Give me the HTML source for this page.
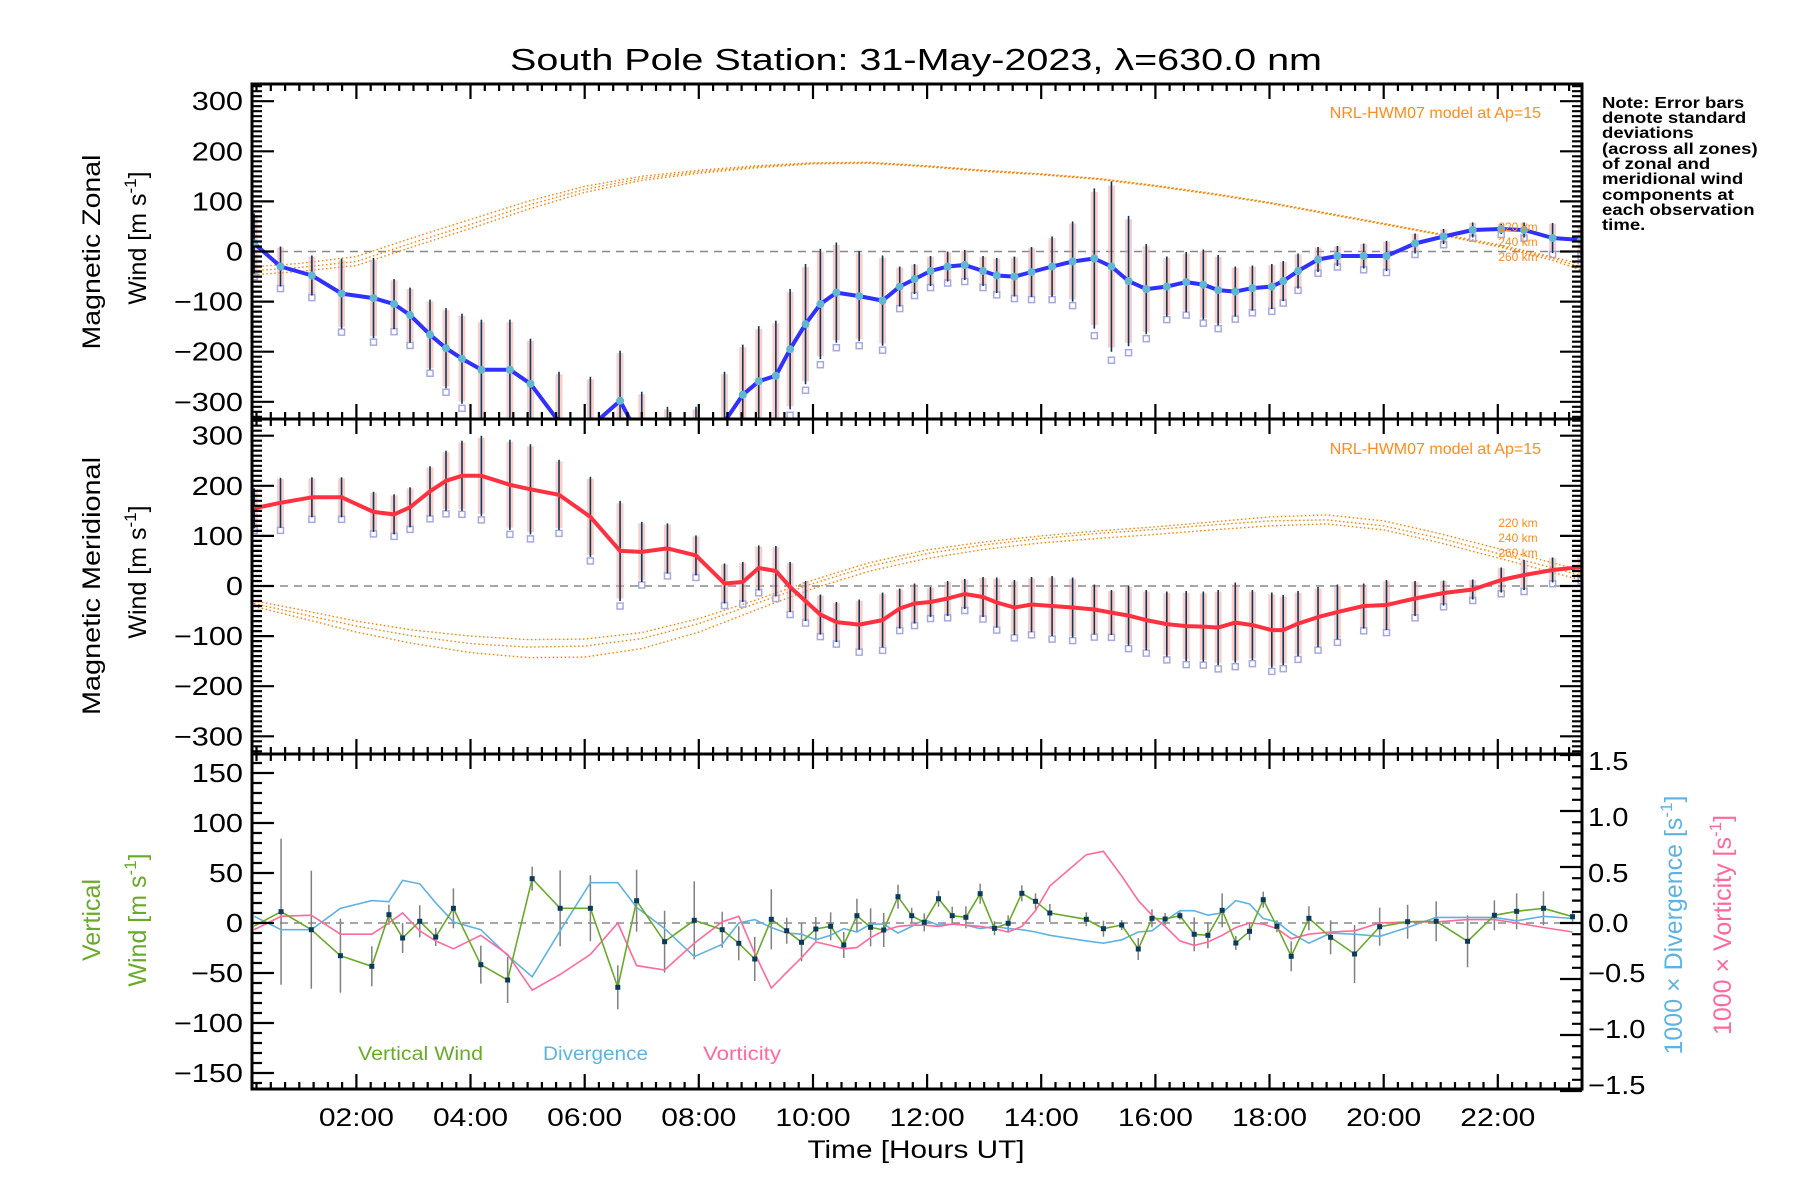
<!DOCTYPE html>
<html><head><meta charset="utf-8"><style>
html,body{margin:0;padding:0;background:#fff;}
svg{display:block;font-family:"Liberation Sans",sans-serif;}
</style></head><body>
<svg id="chart" width="1800" height="1200" viewBox="0 0 1800 1200" xmlns="http://www.w3.org/2000/svg">
<defs>
<clipPath id="c1"><rect x="252" y="84" width="1330" height="335"/></clipPath>
<clipPath id="c2"><rect x="252" y="419" width="1330" height="335"/></clipPath>
<clipPath id="c3"><rect x="252" y="754" width="1330" height="335"/></clipPath>
</defs>
<text x="916" y="70" font-size="31" text-anchor="middle" textLength="812" lengthAdjust="spacingAndGlyphs">South Pole Station: 31-May-2023, λ=630.0 nm</text>
<g id="g1" clip-path="url(#c1)"></g>
<g id="g2" clip-path="url(#c2)"></g>
<g id="g3" clip-path="url(#c3)"></g>
<g id="axes"></g>
<text transform="translate(100,252) rotate(-90)" font-size="25" text-anchor="middle" textLength="195" lengthAdjust="spacingAndGlyphs">Magnetic Zonal</text>
<text transform="translate(146,238) rotate(-90)" font-size="25" text-anchor="middle">Wind [m s<tspan dy="-10" font-size="17">-1</tspan><tspan dy="10">]</tspan></text>
<text transform="translate(100,586) rotate(-90)" font-size="25" text-anchor="middle" textLength="258" lengthAdjust="spacingAndGlyphs">Magnetic Meridional</text>
<text transform="translate(146,572) rotate(-90)" font-size="25" text-anchor="middle">Wind [m s<tspan dy="-10" font-size="17">-1</tspan><tspan dy="10">]</tspan></text>
<text transform="translate(100,920) rotate(-90)" font-size="25" fill="#6aaa2a" text-anchor="middle">Vertical</text>
<text transform="translate(146,920) rotate(-90)" font-size="25" fill="#6aaa2a" text-anchor="middle">Wind [m s<tspan dy="-10" font-size="17">-1</tspan><tspan dy="10">]</tspan></text>
<text transform="translate(1682,925) rotate(-90)" font-size="25" fill="#5fb3e0" text-anchor="middle">1000 × Divergence [s<tspan dy="-10" font-size="17">-1</tspan><tspan dy="10">]</tspan></text>
<text transform="translate(1731,925) rotate(-90)" font-size="25" fill="#ff6a9a" text-anchor="middle">1000 × Vorticity [s<tspan dy="-10" font-size="17">-1</tspan><tspan dy="10">]</tspan></text>
<text x="916" y="1158" font-size="25" text-anchor="middle" textLength="217" lengthAdjust="spacingAndGlyphs">Time [Hours UT]</text>
<text x="1541" y="118" font-size="16" fill="#ff8c1a" text-anchor="end">NRL-HWM07 model at Ap=15</text>
<text x="1541" y="454" font-size="16" fill="#ff8c1a" text-anchor="end">NRL-HWM07 model at Ap=15</text>
<g font-size="12" fill="#ff8c1a" text-anchor="middle">
<text x="1518" y="231">220 km</text><text x="1518" y="246">240 km</text><text x="1518" y="261">260 km</text></g>
<g font-size="12" fill="#ff8c1a" text-anchor="middle">
<text x="1518" y="527">220 km</text><text x="1518" y="542">240 km</text><text x="1518" y="557">260 km</text></g>
<g font-size="16" font-weight="bold" transform="translate(1602,0) scale(1.16,1)">
<text x="0" y="108">Note: Error bars</text><text x="0" y="123">denote standard</text><text x="0" y="138">deviations</text><text x="0" y="154">(across all zones)</text><text x="0" y="169">of zonal and</text><text x="0" y="184">meridional wind</text><text x="0" y="200">components at</text><text x="0" y="215">each observation</text><text x="0" y="230">time.</text></g>
<text x="358" y="1060" font-size="19" fill="#6aaa2a" textLength="125" lengthAdjust="spacingAndGlyphs">Vertical Wind</text>
<text x="543" y="1060" font-size="19" fill="#5fb3e0" textLength="105" lengthAdjust="spacingAndGlyphs">Divergence</text>
<text x="703" y="1060" font-size="19" fill="#ff6a9a" textLength="78" lengthAdjust="spacingAndGlyphs">Vorticity</text>
</svg>
<script>
const obsTimes=[0.21,0.67,1.22,1.74,2.3,2.66,2.94,3.29,3.57,3.85,4.19,4.69,5.05,5.55,6.1,6.62,7.0,7.45,7.95,8.45,8.77,9.05,9.35,9.6,9.87,10.13,10.41,10.81,11.22,11.52,11.78,12.06,12.36,12.66,12.98,13.22,13.53,13.83,14.19,14.55,14.93,15.23,15.53,15.84,16.2,16.54,16.84,17.1,17.4,17.7,18.04,18.24,18.5,18.85,19.19,19.65,20.05,20.55,21.05,21.56,22.06,22.46,22.96,23.46];
const zonalWind=[16,-30,-48,-84,-93,-105,-127,-166,-193,-214,-236,-236,-264,-340,-350,-298,-380,-420,-420,-340,-286,-259,-248,-195,-145,-105,-82,-89,-98,-70,-55,-39,-30,-27,-39,-48,-50,-41,-30,-20,-14,-30,-59,-75,-70,-61,-66,-77,-80,-73,-70,-59,-39,-16,-9,-9,-9,16,30,43,45,43,27,23];
const zonalSd=[60,40,40,70,80,50,55,70,80,90,100,100,90,100,100,100,100,110,110,100,100,110,110,120,120,110,100,90,90,40,30,30,30,30,30,35,40,50,60,80,140,170,130,90,60,60,70,70,50,45,45,40,35,25,20,25,30,20,15,15,10,15,30,30];
const meridWind=[155,166,177,177,148,143,157,189,210,220,220,202,193,182,138,70,68,75,61,5,8,36,30,-2,-30,-57,-72,-77,-68,-45,-35,-32,-25,-16,-22,-33,-43,-37,-40,-43,-47,-53,-59,-68,-76,-80,-81,-83,-73,-78,-88,-88,-75,-62,-52,-40,-38,-25,-14,-7,12,22,32,38];
const meridSd=[40,50,40,40,40,40,40,50,60,70,80,90,90,70,80,100,60,50,40,40,40,45,50,50,40,40,40,50,55,40,40,30,35,30,40,50,55,55,60,60,50,45,60,60,65,70,70,75,80,70,75,70,65,60,55,45,50,35,25,20,25,30,25,25];
const modelHours=[0,1,2,3,4,5,6,7,8,9,10,11,12,13,14,15,16,17,18,19,20,21,22,23,24];
const zonalModel220=[-32,-24,-10,28,64,100,130,150,162,171,177,178,171,162,155,146,132,116,98,77,56,35,14,-12,-42];
const zonalModel240=[-40,-32,-20,18,54,92,124,146,159,169,176,177,170,161,154,145,131,115,97,76,55,34,12,-15,-50];
const zonalModel260=[-48,-40,-28,10,46,84,118,142,156,167,175,176,169,160,153,144,130,114,96,75,54,33,10,-19,-58];
const meridModel220=[-25,-47,-70,-88,-100,-107,-106,-93,-65,-28,12,47,72,88,100,110,118,128,138,142,130,104,75,45,15];
const meridModel240=[-30,-55,-80,-100,-115,-122,-120,-105,-75,-35,5,40,65,82,95,105,113,122,130,132,120,95,65,35,5];
const meridModel260=[-35,-63,-92,-115,-133,-143,-142,-125,-92,-48,-5,30,55,73,86,95,103,112,120,124,112,86,56,26,-5];
const vertTimes=[0.21,0.68,1.21,1.72,2.27,2.57,2.81,3.11,3.39,3.70,4.18,4.65,5.08,5.57,6.10,6.58,6.91,7.40,7.92,8.41,8.70,8.98,9.27,9.54,9.80,10.05,10.31,10.54,10.77,11.01,11.24,11.49,11.73,11.95,12.20,12.44,12.68,12.93,13.18,13.42,13.66,13.90,14.15,14.79,15.09,15.41,15.70,15.94,16.17,16.43,16.68,16.92,17.17,17.41,17.65,17.89,18.13,18.38,18.69,19.07,19.49,19.93,20.42,20.92,21.47,21.94,22.33,22.80,23.31];
const vertWind=[-3,11.3,-6.7,-32.7,-43.3,8.3,-15,1.7,-14,14.7,-41.7,-57,44.3,14.7,14.7,-64.3,22.3,-18.7,2.7,-6.7,-20.3,-36,3.7,-7.7,-19.3,-6,-3.3,-22,7.3,-4.3,-7,26.3,7.3,0.7,24.3,7.3,5.7,29.3,-5.3,-0.3,29.7,21.7,10,3.7,-5.7,-2,-26,4.7,4,7.3,-11.3,-12.3,12.7,-20,-8.3,23.3,-3.3,-33.3,4.7,-14.3,-31,-3.7,1.3,1.7,-18.3,7.7,11.7,14.7,6.3];
const vertSd=[0,73,59,37,20,10,15,16,9,20,19,23,12,38,33,22,31,31,39,18,17,22,30,13,19,12,14,13,17,19,17,12,8,9,8,9,11,10,7,8,8,8,9,7,8,5,11,9,6,4,17,13,17,7,9,8,6,15,12,17,29,19,17,20,26,15,18,17,5];
const divergence=[0.06,-0.06,-0.06,0.13,0.20,0.19,0.38,0.35,0.18,0.01,-0.06,-0.29,-0.48,-0.07,0.36,0.36,0.14,-0.05,-0.30,-0.19,0,0.03,-0.04,-0.09,-0.10,-0.15,-0.11,-0.05,-0.08,-0.01,-0.01,-0.09,-0.03,0.03,-0.02,-0.01,-0.02,-0.05,-0.03,-0.05,-0.06,-0.08,-0.11,-0.16,-0.18,-0.15,-0.08,-0.07,0.02,0.11,0.11,0.07,0.09,0.20,0.17,0.04,0.01,-0.09,-0.18,-0.09,-0.10,-0.12,-0.04,0.05,0.05,0.05,0.02,0.06,0.04];
const vorticity=[-0.06,0.06,0.07,-0.10,-0.10,0,0.09,-0.07,-0.16,-0.23,-0.11,-0.28,-0.60,-0.46,-0.28,0,-0.38,-0.42,-0.18,0.01,0.06,-0.27,-0.58,-0.44,-0.31,-0.17,-0.20,-0.23,-0.22,-0.13,-0.07,-0.03,-0.02,-0.02,-0.03,-0.01,-0.02,-0.03,-0.05,-0.08,-0.03,0.11,0.33,0.61,0.64,0.42,0.20,0.07,-0.03,-0.16,-0.20,-0.17,-0.11,-0.04,0,-0.01,-0.05,-0.14,-0.10,-0.08,-0.07,0,0.01,0.01,0.03,0.03,0,-0.04,-0.08];
const xTickLabels=["02:00","04:00","06:00","08:00","10:00","12:00","14:00","16:00","18:00","20:00","22:00"];
const xTickHours=[2,4,6,8,10,12,14,16,18,20,22];
const windTicks=[300,200,100,0,-100,-200,-300];
const vertTicks=[150,100,50,0,-50,-100,-150];
const rightTicks=[1.5,1.0,0.5,0.0,-0.5,-1.0,-1.5];

const NS='http://www.w3.org/2000/svg';
const XL=252,XR=1582;
const P=[{top:84,bot:419,zero:251.5},{top:419,bot:754,zero:586},{top:754,bot:1089,zero:923}];
function xs(h){return 356.4+(h-2)*57.07;}
function ysW(p,v){return P[p].zero-v*0.501;}
function ysV(v){return P[2].zero-v*1.0;}
function ysR(v){return P[2].zero-v*112;}
function mk(tag,attrs,parent){const e=document.createElementNS(NS,tag);for(const k in attrs)e.setAttribute(k,attrs[k]);parent.appendChild(e);return e;}
function widen(t,k){const w=t.getComputedTextLength();if(w>0){t.setAttribute('textLength',(w*k).toFixed(1));t.setAttribute('lengthAdjust','spacingAndGlyphs');}}
const g=[document.getElementById('g1'),document.getElementById('g2'),document.getElementById('g3')];
const ax=document.getElementById('axes');

for(let p=0;p<3;p++){
  const z=mk('line',{x1:XL,x2:XR,y1:P[p].zero,y2:P[p].zero,stroke:'#888','stroke-width':1.5,'stroke-dasharray':'8 6'},g[p]);
  
  
}
function modelLine(p,arr,name){
  const pts=modelHours.map((h,i)=>xs(h).toFixed(1)+','+ysW(p,arr[i]).toFixed(1)).join(' ');
  const l=mk('polyline',{points:pts,fill:'none',stroke:'#ff8000','stroke-width':1.4,'stroke-dasharray':'1.5 2.5'},g[p]);
  
  
}
modelLine(0,zonalModel220,'zonal-model-220km');modelLine(0,zonalModel240,'zonal-model-240km');modelLine(0,zonalModel260,'zonal-model-260km');
modelLine(1,meridModel220,'meridional-model-220km');modelLine(1,meridModel240,'meridional-model-240km');modelLine(1,meridModel260,'meridional-model-260km');

function windPanel(p,vals,sds,color,name){
  obsTimes.forEach((h,i)=>{
    const x=xs(h);
    const band=mk('rect',{x:x-3.5,y:ysW(p,vals[i]+sds[i]*0.95),width:7,height:Math.abs(ysW(p,vals[i]-sds[i]*0.95)-ysW(p,vals[i]+sds[i]*0.95)),fill:'#f6a8a0',opacity:0.55},g[p]);
    
    
    const sq=mk('rect',{x:x-3,y:ysW(p,vals[i]-sds[i]*1.1)-3,width:6,height:6,fill:'none',stroke:'#a8a8e0','stroke-width':1.5},g[p]);
    
    
    const eb=mk('line',{x1:x,x2:x,y1:ysW(p,vals[i]+sds[i]),y2:ysW(p,vals[i]-sds[i]),stroke:'#0a3a5c','stroke-width':1.6},g[p]);
    
    
  });
  const pts=obsTimes.map((h,i)=>xs(h).toFixed(1)+','+ysW(p,vals[i]).toFixed(1)).join(' ');
  const l=mk('polyline',{points:pts,fill:'none',stroke:color,'stroke-width':4,'stroke-linejoin':'round'},g[p]);
  
  
  if(p===0){obsTimes.forEach((h,i)=>{
    const c=mk('circle',{cx:xs(h),cy:ysW(p,vals[i]),r:4,fill:'#5fb8d0'},g[p]);
    
    
  });}
}
windPanel(0,zonalWind,zonalSd,'#3030ff','zonal-wind');
windPanel(1,meridWind,meridSd,'#ff3040','meridional-wind');

vertTimes.forEach((h,i)=>{
  if(vertSd[i]>0){
    const eb=mk('line',{x1:xs(h),x2:xs(h),y1:ysV(vertWind[i]+vertSd[i]),y2:ysV(vertWind[i]-vertSd[i]),stroke:'#808080','stroke-width':1.5},g[2]);
    
    
  }
});
function line3(arr,fn,color,name,w){
  const pts=vertTimes.map((h,i)=>xs(h).toFixed(1)+','+fn(arr[i]).toFixed(1)).join(' ');
  const l=mk('polyline',{points:pts,fill:'none',stroke:color,'stroke-width':w},g[2]);
  
  
}
line3(divergence,ysR,'#5fb3e0','divergence-line',1.6);
line3(vorticity,ysR,'#ff6a9a','vorticity-line',1.6);
line3(vertWind,ysV,'#6aaa2a','vertical-wind-line',1.6);
vertTimes.forEach((h,i)=>{
  if(i===0)return;
  const d=mk('rect',{x:xs(h)-2.5,y:ysV(vertWind[i])-2.5,width:5,height:5,fill:'#0a3a5c'},g[2]);
  
  
});

let tp='';
for(let p=0;p<3;p++){
  const t=P[p].top,b=P[p].bot;
  for(let h=0.25;h<23.5;h+=0.25){
    const x=xs(h);if(x<XL+1||x>XR-1)continue;
    const major=Math.abs(h/2-Math.round(h/2))<1e-6;
    const L=major?15:7;
    tp+=`M${x.toFixed(1)},${t}v${L}M${x.toFixed(1)},${b}v${-L}`;
  }
  if(p<2){
    for(let v=-330;v<=330;v+=10){
      const y=ysW(p,v);const major=(v%100===0);const L=major?22:10;
      tp+=`M${XL},${y.toFixed(1)}h${L}M${XR},${y.toFixed(1)}h${-L}`;
    }
  } else {
    for(let v=-160;v<=160;v+=10){
      const y=ysV(v);const major=(v%50===0);const L=major?22:10;
      tp+=`M${XL},${y.toFixed(1)}h${L}`;
    }
    for(let v=-15;v<=15;v+=1){
      const y=ysR(v/10);const major=(v%5===0);const L=major?22:10;
      tp+=`M${XR},${y.toFixed(1)}h${-L}`;
    }
  }
}
const tk=mk('path',{d:tp,stroke:'#000','stroke-width':2.2,fill:'none'},ax);


for(let p=0;p<3;p++){
  const r=mk('rect',{x:XL,y:P[p].top,width:XR-XL,height:P[p].bot-P[p].top,fill:'none',stroke:'#000','stroke-width':3},ax);
  
  
}
for(let p=0;p<2;p++){
  windTicks.forEach(v=>{
    const t=mk('text',{x:243,y:ysW(p,v)+9,'font-size':26,'text-anchor':'end'},ax);
    t.textContent=(v<0?'−':'')+Math.abs(v);
    
    
    widen(t,1.18);
  });
}
vertTicks.forEach(v=>{
  const t=mk('text',{x:243,y:ysV(v)+9,'font-size':26,'text-anchor':'end'},ax);
  t.textContent=(v<0?'−':'')+Math.abs(v);
  
  
  widen(t,1.18);
});
rightTicks.forEach(v=>{
  const t=mk('text',{x:1588,y:ysR(v)+9+(v>0?6:(v<0?-6:0)),'font-size':26},ax);
  t.textContent=(v<0?'−':'')+Math.abs(v).toFixed(1);
  
  
  widen(t,1.12);
});
xTickHours.forEach((h,i)=>{
  const t=mk('text',{x:xs(h),y:1126,'font-size':25,'text-anchor':'middle'},ax);
  t.textContent=xTickLabels[i];
  
  
  widen(t,1.2);
});
</script>
</body></html>
